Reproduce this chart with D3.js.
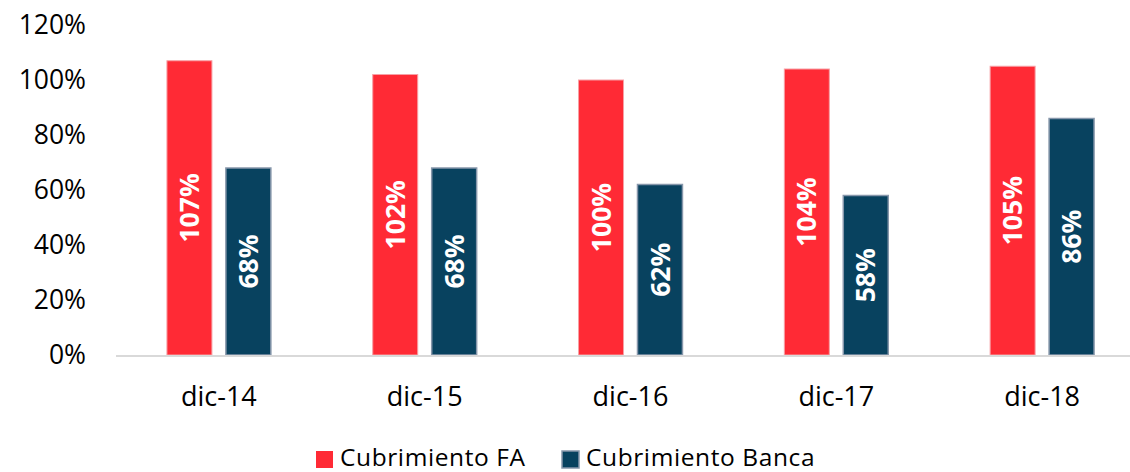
<!DOCTYPE html>
<html lang="es">
<head>
  <meta charset="UTF-8">
  <title>Cubrimiento FA vs Banca</title>
  <script src="https://d3js.org/d3.v7.min.js"></script>
  <style>
    body { margin: 0; background: #fff; }
    svg text { font-family: "Open Sans", "DejaVu Sans", sans-serif; }
  </style>
</head>
<body>
  <svg id="chart" width="1130" height="472"></svg>

  <script>
    // data
    const categories = ["dic-14", "dic-15", "dic-16", "dic-17", "dic-18"];
    const seriesNames = ["Cubrimiento FA", "Cubrimiento Banca"];
    const fa    = [1.07, 1.02, 1.00, 1.04, 1.05];
    const banca = [0.68, 0.68, 0.62, 0.58, 0.86];
    const yTicks = [0, 0.2, 0.4, 0.6, 0.8, 1.0, 1.2];

    const colors  = { "Cubrimiento FA": "#ff2a35", "Cubrimiento Banca": "#08425f" };
    const strokes = { "Cubrimiento FA": "#f7a0a5", "Cubrimiento Banca": "#8797ab" };

    const svg = d3.select("#chart");

    // scales
    const y = d3.scaleLinear().domain([0, 1.2]).range([355, 25]);
    const x0 = d3.scaleBand()
      .domain(categories)
      .range([116, 1145])
      .paddingInner(0.495)
      .paddingOuter(0.2475);
    const x1 = d3.scaleBand()
      .domain(seriesNames)
      .range([0, x0.bandwidth()])
      .paddingInner(0.237);

    // y axis labels only
    const yAxis = svg.append("g")
      .attr("transform", "translate(86,0)")
      .call(d3.axisLeft(y).tickValues(yTicks).tickFormat(d3.format(".0%")).tickSize(0).tickPadding(0));
    yAxis.select(".domain").remove();
    yAxis.selectAll("text")
      .attr("fill", "#000")
      .style("font-size", "26.5px")
      .style("font-family", "'Open Sans', sans-serif");

    // rows of the table
    const rows = categories.map((c, i) => ({
      cat: c,
      vals: [
        { name: seriesNames[0], v: fa[i] },
        { name: seriesNames[1], v: banca[i] }
      ]
    }));

    const groups = svg.append("g")
      .selectAll("g")
      .data(rows)
      .join("g")
        .attr("transform", d => `translate(${x0(d.cat)},0)`);

    groups.selectAll("rect")
      .data(d => d.vals)
      .join("rect")
        .attr("x", d => x1(d.name))
        .attr("y", d => y(d.v))
        .attr("width", x1.bandwidth())
        .attr("height", d => y(0) - y(d.v))
        .attr("fill", d => colors[d.name])
        .attr("stroke", d => strokes[d.name])
        .attr("stroke-width", d => d.name === seriesNames[1] ? 1.5 : 1);

    // rotated value labels in the middle of each bar
    groups.selectAll("text.val")
      .data(d => d.vals)
      .join("text")
        .attr("class", "val")
        .attr("transform", d => {
          const cx = x1(d.name) + x1.bandwidth() / 2;
          const cy = (y(d.v) + y(0)) / 2;
          return `translate(${cx},${cy}) rotate(-90)`;
        })
        .attr("text-anchor", "middle")
        .attr("dy", "0.36em")
        .attr("fill", "#fff")
        .style("font-size", "26.5px")
        .style("font-weight", "bold")
        .text(d => Math.round(d.v * 100) + "%");

    // baseline
    svg.append("line")
      .attr("x1", 116).attr("x2", 1130)
      .attr("y1", y(0) + 1).attr("y2", y(0) + 1)
      .attr("stroke", "#d9d9d9")
      .attr("stroke-width", 2);

    // category labels
    svg.append("g")
      .selectAll("text")
      .data(categories)
      .join("text")
        .attr("x", d => x0(d) + x0.bandwidth() / 2)
        .attr("y", 406)
        .attr("text-anchor", "middle")
        .attr("fill", "#000")
        .style("font-size", "27px")
        .text(d => d);

    // legend
    const legendX = [316, 562];
    const legend = svg.append("g")
      .selectAll("g")
      .data(seriesNames)
      .join("g")
        .attr("transform", (d, i) => `translate(${legendX[i]},451)`);
    legend.append("rect")
      .attr("width", 17).attr("height", 17)
      .attr("fill", d => colors[d])
      .attr("stroke", d => d === seriesNames[1] ? strokes[d] : "none")
      .attr("stroke-width", 1.5);
    legend.append("text")
      .attr("x", 24)
      .attr("y", 15)
      .attr("fill", "#000")
      .style("font-size", "24.5px")
      .style("letter-spacing", "0.6px")
      .text(d => d);
  </script>
</body>
</html>
